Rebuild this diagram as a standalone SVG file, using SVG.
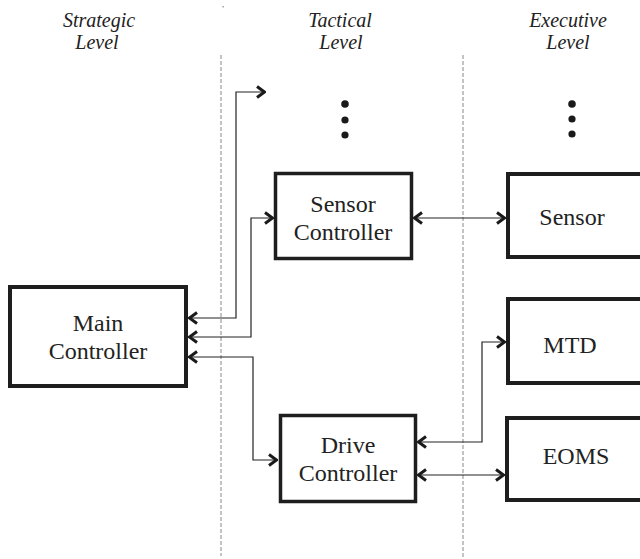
<svg xmlns="http://www.w3.org/2000/svg" width="640" height="559" viewBox="0 0 640 559">
  <style>
    .box { fill: #ffffff; stroke: #1e1e1e; stroke-width: 4; }
    .lbl { font-family: 'Liberation Serif', 'Times New Roman', 'DejaVu Serif', serif; font-size: 24px; fill: #222222; text-anchor: middle; }
    .lvl { font-family: 'Liberation Serif', 'Times New Roman', 'DejaVu Serif', serif; font-size: 20px; font-style: italic; fill: #222222; text-anchor: middle; }
    .sep { stroke: #888888; stroke-width: 1; stroke-dasharray: 4 2; fill: none; }
    .link { stroke: #222222; stroke-width: 1.2; fill: none; marker-start: url(#head); marker-end: url(#head); }
    .dot { fill: #1a1a1a; }
  </style>
  <defs>
    <marker id="head" viewBox="-11 -7 12 14" refX="0" refY="0" markerWidth="12" markerHeight="14" markerUnits="userSpaceOnUse" orient="auto-start-reverse">
      <path d="M-8,-5.5 L-0.5,0 L-8,5.5" fill="none" stroke="#1a1a1a" stroke-width="3" stroke-linejoin="miter"/>
    </marker>
  </defs>

  <rect width="640" height="559" fill="#ffffff"/>

  <!-- level headings -->
  <g id="levels">
    <text class="lvl" x="99" y="27">Strategic</text>
    <text class="lvl" x="97" y="49">Level</text>
    <text class="lvl" x="340" y="27">Tactical</text>
    <text class="lvl" x="341" y="49">Level</text>
    <text class="lvl" x="568" y="27">Executive</text>
    <text class="lvl" x="568" y="49">Level</text>
  </g>

  <!-- level separators -->
  <g id="separators">
    <rect x="222.5" y="6" width="1.2" height="1.5" fill="#888888"/>
    <line class="sep" x1="221" y1="55" x2="221" y2="556"/>
    <line class="sep" x1="463" y1="55" x2="463" y2="559"/>
  </g>

  <!-- continuation dots -->
  <g id="more-tactical">
    <circle class="dot" cx="345" cy="104" r="3.8"/>
    <circle class="dot" cx="345" cy="120" r="3.6"/>
    <circle class="dot" cx="345" cy="135" r="3.6"/>
  </g>
  <g id="more-executive">
    <circle class="dot" cx="572" cy="104" r="3.8"/>
    <circle class="dot" cx="572" cy="119" r="3.6"/>
    <circle class="dot" cx="572" cy="134" r="3.6"/>
  </g>

  <!-- connectors -->
  <g id="connectors">
    <path class="link" d="M189,318 H236 V92 H265"/>
    <path class="link" d="M189,337 H251 V218 H273"/>
    <path class="link" d="M189,357 H253 V460 H277"/>
    <path class="link" d="M414,218 H505"/>
    <path class="link" d="M418,442 H482 V342 H505"/>
    <path class="link" d="M418,475 H504"/>
  </g>

  <!-- nodes -->
  <g id="main-controller">
    <rect class="box" x="10" y="287" width="176" height="99"/>
    <text class="lbl" x="98" y="331">Main</text>
    <text class="lbl" x="98" y="359">Controller</text>
  </g>
  <g id="sensor-controller">
    <rect class="box" x="275.5" y="173.5" width="136" height="85" style="stroke-width:3.5"/>
    <text class="lbl" x="343" y="212">Sensor</text>
    <text class="lbl" x="343" y="240">Controller</text>
  </g>
  <g id="drive-controller">
    <rect class="box" x="280.5" y="415.5" width="135" height="86" style="stroke-width:3.5"/>
    <text class="lbl" x="348" y="453">Drive</text>
    <text class="lbl" x="348" y="481">Controller</text>
  </g>
  <g id="sensor">
    <rect class="box" x="508" y="174" width="140" height="83"/>
    <text class="lbl" x="572" y="225">Sensor</text>
  </g>
  <g id="mtd">
    <rect class="box" x="508" y="299" width="140" height="84"/>
    <text class="lbl" x="570" y="353">MTD</text>
  </g>
  <g id="eoms">
    <rect class="box" x="507" y="418" width="140" height="82"/>
    <text class="lbl" x="576" y="464">EOMS</text>
  </g>
</svg>
